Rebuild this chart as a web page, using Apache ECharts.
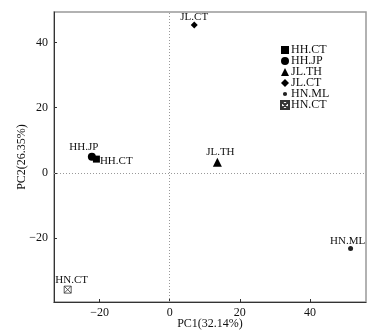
<!DOCTYPE html>
<html>
<head>
<meta charset="utf-8">
<script src="https://cdn.jsdelivr.net/npm/echarts@6/dist/echarts.min.js"></script>
<style>
  html, body { margin: 0; padding: 0; background: #fff; }
  #chart { width: 388px; height: 333px; }
</style>
</head>
<body>
<div id="chart"></div>
<script>
// PCA scores
const groups = ['HH.CT', 'HH.JP', 'JL.TH', 'JL.CT', 'HN.ML', 'HN.CT']
const pc1 = [-20.9, -22.2, 13.6, 7.0, 51.6, -29.1]
const pc2 = [4.2, 4.9, 3.2, 45.4, -23.3, -35.9]
const xTicks = [-20, 0, 20, 40]
const yTicks = [-20, 0, 20, 40]

const boxX = 'path://M0,0L10,0L10,10L0,10ZM0,0L10,10M10,0L0,10'
// small dot padded to a 10x10 box so the legend icon stays small
const smallDot = 'path://M0,0M10,10M7.6,5A2.6,2.6 0 1 1 2.4,5A2.6,2.6 0 1 1 7.6,5Z'
const symbols = ['rect', 'circle', 'triangle', 'diamond', 'circle', boxX]
const sizes = [7, 8, 9, 7, 5, 7]
const labelPos = ['right', 'top', 'top', 'top', 'top', 'top']
const labelOffset = [[-3, 2], [-8, 3], [3, 3], [0, 4], [-3, 3], [4, 3]]

const font = 'Liberation Serif'
const minus = (v) => (v < 0 ? '\u2212' + Math.abs(v) : String(v))

const chart = echarts.init(document.getElementById('chart'))

const series = groups.map((g, i) => {
  const isBox = i === 5
  return {
    name: g,
    type: 'scatter',
    symbol: symbols[i],
    symbolSize: sizes[i],
    data: [[pc1[i], pc2[i]]],
    itemStyle: isBox
      ? { color: 'rgba(0,0,0,0)', borderColor: '#333', borderWidth: 0.8, opacity: 1 }
      : { color: i === 4 ? '#222' : '#000', opacity: 1 },
    label: {
      show: true,
      formatter: g,
      position: labelPos[i],
      offset: labelOffset[i],
      distance: 3,
      color: '#111',
      fontFamily: font,
      fontSize: 11
    },
    markLine: i === 0 ? {
      silent: true,
      symbol: 'none',
      label: { show: false },
      lineStyle: { color: '#999', type: [1, 2], width: 1 },
      data: [{ xAxis: 0 }, { yAxis: 0 }]
    } : undefined
  }
})

chart.setOption({
  animation: false,
  backgroundColor: '#fff',
  grid: {
    left: 54, right: 22, top: 12, bottom: 31,
    outerBoundsMode: 'none',
    show: true, borderColor: '#999', borderWidth: 1.5, backgroundColor: 'transparent'
  },
  legend: {
    orient: 'vertical',
    left: 275,
    top: 39,
    itemWidth: 8,
    itemHeight: 8,
    itemGap: -1,
    data: groups.map((g) => (g === 'HN.ML' ? { name: g, icon: smallDot } : g)),
    textStyle: { fontFamily: font, fontSize: 12, lineHeight: 11, color: '#111', padding: [0, 0, 0, -3] }
  },
  xAxis: {
    type: 'value',
    min: -33,
    max: 56,
    name: 'PC1(32.14%)',
    nameLocation: 'middle',
    nameGap: 16,
    nameMoveOverlap: false,
    nameTextStyle: { fontFamily: font, fontSize: 12, color: '#111' },
    axisLine: { show: true, onZero: false, lineStyle: { color: '#333', width: 1 } },
    axisTick: { show: true, inside: true, length: 3, customValues: xTicks, lineStyle: { color: '#333' } },
    axisLabel: { customValues: xTicks, formatter: minus, fontFamily: font, fontSize: 12, color: '#111', margin: 5 },
    splitLine: { show: false }
  },
  yAxis: {
    type: 'value',
    min: -39.7,
    max: 49.4,
    name: 'PC2(26.35%)',
    nameLocation: 'middle',
    nameGap: 26,
    nameMoveOverlap: false,
    nameTextStyle: { fontFamily: font, fontSize: 12, color: '#111' },
    axisLine: { show: true, onZero: false, lineStyle: { color: '#333', width: 1 } },
    axisTick: { show: true, inside: true, length: 3, customValues: yTicks, lineStyle: { color: '#333' } },
    axisLabel: { customValues: yTicks, formatter: minus, fontFamily: font, fontSize: 12, color: '#111', margin: 6 },
    splitLine: { show: false }
  },
  series
})
</script>
</body>
</html>
